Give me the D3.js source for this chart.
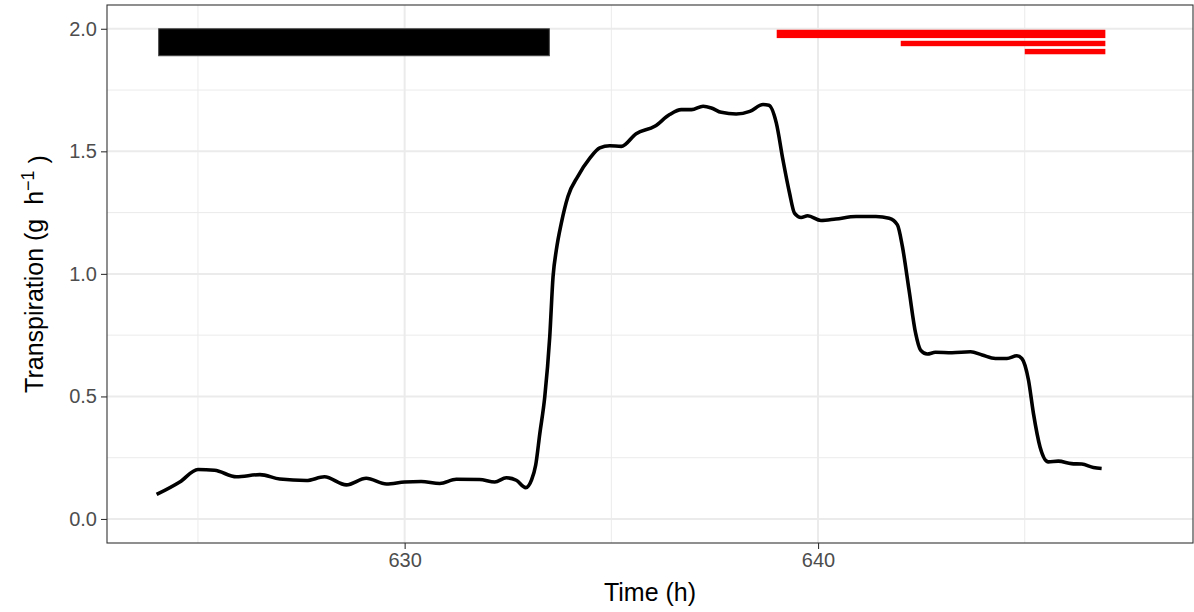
<!DOCTYPE html>
<html>
<head>
<meta charset="utf-8">
<script src="https://cdn.jsdelivr.net/npm/d3@7"></script>
<style>
  body { margin: 0; background: #fff; }
  svg { display: block; font-family: "Liberation Sans", Arial, sans-serif; }
</style>
</head>
<body>
<svg id="chart"></svg>
<script>
// transpiration trace
const time = [624.0, 624.56, 625.0, 625.4, 625.93, 626.5, 626.98, 627.62, 628.06, 628.59,
  629.07, 629.56, 630.0, 630.4, 630.85, 631.25, 631.81, 632.18, 632.46, 632.7,
  632.93, 633.07, 633.17, 633.27, 633.39, 633.51, 633.59, 633.67, 633.79, 633.95,
  634.19, 634.48, 634.72, 634.96, 635.24, 635.6, 636.05, 636.41, 636.69, 636.94, 637.22,
  637.42, 637.66, 638.02, 638.35, 638.67, 638.81, 638.99, 639.15, 639.31, 639.43,
  639.59, 639.75, 640.07, 640.43, 640.92, 641.4, 641.72, 641.92, 642.04, 642.2,
  642.36, 642.48, 642.64, 642.84, 643.24, 643.69, 643.97, 644.29, 644.57, 644.81,
  644.93, 645.09, 645.21, 645.37, 645.57, 645.81, 646.13, 646.38, 646.66, 646.86];
const transpiration = [0.10, 0.151, 0.202, 0.199, 0.172, 0.181, 0.163, 0.157, 0.172, 0.139,
  0.166, 0.143, 0.151, 0.153, 0.145, 0.162, 0.161, 0.151, 0.168, 0.158,
  0.128, 0.16, 0.22, 0.349, 0.499, 0.744, 0.989, 1.098, 1.207, 1.316,
  1.398, 1.472, 1.514, 1.523, 1.52, 1.572, 1.602, 1.65, 1.67, 1.67, 1.684,
  1.677, 1.659, 1.652, 1.663, 1.691, 1.688, 1.616, 1.466, 1.33, 1.248,
  1.23, 1.237, 1.218, 1.224, 1.234, 1.234, 1.227, 1.2, 1.112, 0.935,
  0.758, 0.689, 0.673, 0.68, 0.678, 0.682, 0.669, 0.655, 0.655, 0.666,
  0.655, 0.567, 0.431, 0.294, 0.233, 0.236, 0.226, 0.224, 0.21, 0.206];

// black (dark) period bar
const darkStart = [624.05];
const darkEnd = [633.5];
const darkLow = [1.89];
const darkHigh = [2.0];

// red treatment bars
const redStart = [639.0, 642.0, 645.0];
const redEnd = [646.95, 646.95, 646.95];
const redLow = [1.962, 1.929, 1.896];
const redHigh = [1.996, 1.951, 1.918];

const xTicks = [630, 640];
const xMinor = [625, 635, 645];
const yTicks = [0, 0.5, 1.0, 1.5, 2.0];
const yMinor = [0.25, 0.75, 1.25, 1.75];

const width = 1194, height = 612;
const margin = { top: 5, right: 1, bottom: 69, left: 107 };

const svg = d3.select("#chart").attr("width", width).attr("height", height);

const x = d3.scaleLinear().domain([622.8, 649.07]).range([margin.left, width - margin.right]);
const y = d3.scaleLinear().domain([-0.098, 2.097]).range([height - margin.bottom, margin.top]);

// grid
const grid = svg.append("g");
grid.selectAll(".xminor").data(xMinor).enter().append("line")
  .attr("x1", d => x(d)).attr("x2", d => x(d))
  .attr("y1", margin.top).attr("y2", height - margin.bottom)
  .attr("stroke", "#ebebeb").attr("stroke-width", 1);
grid.selectAll(".yminor").data(yMinor).enter().append("line")
  .attr("y1", d => y(d)).attr("y2", d => y(d))
  .attr("x1", margin.left).attr("x2", width - margin.right)
  .attr("stroke", "#ebebeb").attr("stroke-width", 1);
grid.selectAll(".xmajor").data(xTicks).enter().append("line")
  .attr("x1", d => x(d)).attr("x2", d => x(d))
  .attr("y1", margin.top).attr("y2", height - margin.bottom)
  .attr("stroke", "#ebebeb").attr("stroke-width", 2);
grid.selectAll(".ymajor").data(yTicks).enter().append("line")
  .attr("y1", d => y(d)).attr("y2", d => y(d))
  .attr("x1", margin.left).attr("x2", width - margin.right)
  .attr("stroke", "#ebebeb").attr("stroke-width", 2);

// bars
svg.selectAll(".dark").data(darkStart).enter().append("rect")
  .attr("x", (d, i) => x(d))
  .attr("y", (d, i) => y(darkHigh[i]))
  .attr("width", (d, i) => x(darkEnd[i]) - x(d))
  .attr("height", (d, i) => y(darkLow[i]) - y(darkHigh[i]))
  .attr("fill", "#000").attr("stroke", "#444").attr("stroke-width", 1);

svg.selectAll(".red").data(redStart).enter().append("rect")
  .attr("x", (d, i) => x(d))
  .attr("y", (d, i) => y(redHigh[i]))
  .attr("width", (d, i) => x(redEnd[i]) - x(d))
  .attr("height", (d, i) => y(redLow[i]) - y(redHigh[i]))
  .attr("fill", "#ff0000");

// line
const pts = time.map((t, i) => [t, transpiration[i]]);
svg.append("path")
  .datum(pts)
  .attr("fill", "none")
  .attr("stroke", "#000")
  .attr("stroke-width", 3.6)
  .attr("stroke-linejoin", "round")
  .attr("d", d3.line().x(d => x(d[0])).y(d => y(d[1])).curve(d3.curveMonotoneX));

// panel border
svg.append("rect")
  .attr("x", margin.left).attr("y", margin.top)
  .attr("width", width - margin.left - margin.right)
  .attr("height", height - margin.top - margin.bottom)
  .attr("fill", "none").attr("stroke", "#333").attr("stroke-width", 1.1);

// axes
const xAxis = d3.axisBottom(x).tickValues(xTicks).tickFormat(d3.format("d")).tickSize(6).tickPadding(4);
const yAxis = d3.axisLeft(y).tickValues(yTicks).tickFormat(d3.format(".1f")).tickSize(6).tickPadding(4);

const xg = svg.append("g").attr("transform", `translate(0,${height - margin.bottom})`).call(xAxis);
const yg = svg.append("g").attr("transform", `translate(${margin.left},0)`).call(yAxis);
[xg, yg].forEach(g => {
  g.select(".domain").remove();
  g.selectAll(".tick line").attr("stroke", "#333").attr("stroke-width", 1.1);
  g.selectAll(".tick text").attr("fill", "#4d4d4d").style("font-size", "20px")
    .style("font-family", "'Liberation Sans', Arial, sans-serif");
});

// titles
svg.append("text")
  .attr("x", (margin.left + width - margin.right) / 2)
  .attr("y", 601)
  .attr("text-anchor", "middle")
  .style("font-size", "25px")
  .text("Time (h)");

const yt = svg.append("text")
  .attr("transform", `translate(43,${(margin.top + height - margin.bottom) / 2}) rotate(-90)`)
  .attr("text-anchor", "middle")
  .attr("xml:space", "preserve")
  .style("white-space", "pre")
  .style("font-size", "25px");
yt.append("tspan").text("Transpiration (g  h");
yt.append("tspan").attr("dy", "-0.5em").style("font-size", "18px").text("\u22121");
yt.append("tspan").attr("dy", "0.5em").text(" )");
</script>
</body>
</html>
